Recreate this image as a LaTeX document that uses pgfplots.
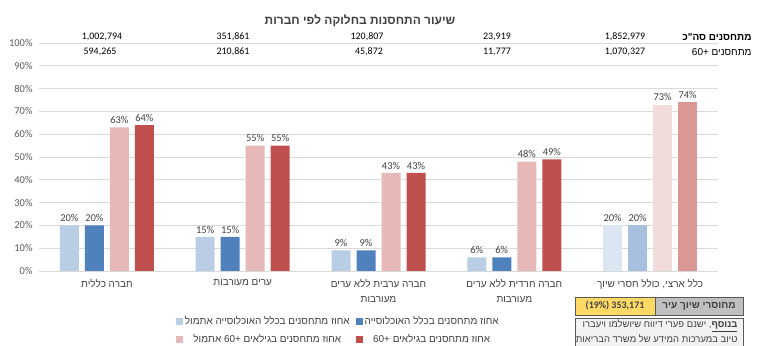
\documentclass[border=0pt]{standalone}
\usepackage{pgfplots}
\pgfplotsset{compat=1.18}
\usepackage{fontspec}
\setmainfont{Carlito}
\newfontfamily\hebfont[Script=Hebrew]{Liberation Sans}
\TeXXeTstate=1
\definecolor{lb}{HTML}{B9CDE5}
\definecolor{db}{HTML}{4F81BD}
\definecolor{lr}{HTML}{E6B9B8}
\definecolor{dr}{HTML}{C0504D}
\definecolor{lbb}{HTML}{DCE6F2}
\definecolor{dbb}{HTML}{A7C0DE}
\definecolor{lrr}{HTML}{F2DCDB}
\definecolor{drr}{HTML}{D99795}
\definecolor{txt}{HTML}{404040}
\definecolor{tick}{HTML}{595959}
\definecolor{gridc}{HTML}{D9D9D9}
\definecolor{boxy}{HTML}{FFD966}
\definecolor{boxg}{HTML}{BFBFBF}
\begin{document}
\begin{tikzpicture}
\path[use as bounding box] (0bp,0bp) rectangle (758bp,346bp);
\begin{axis}[
  at={(39bp,75bp)}, anchor=south west,
  scale only axis, width=679bp, height=228bp,
  ymin=0, ymax=100, ytick={0,10,...,100},
  xmin=-0.5, xmax=4.5, xtick={0,1,2,3,4},
  /pgf/number format/assume math mode=true,
  yticklabel={\pgfmathprintnumber{\tick}\%},
  yticklabel style={font=\fontsize{10.5}{12}\selectfont, text=tick, xshift=-3bp},
  xticklabels={{\hebfont\beginR חברה כללית\endR},{\hebfont\beginR ערים מעורבות\endR},{\hebfont\beginR חברה ערבית ללא ערים\endR\\\hebfont\beginR מעורבות\endR},{\hebfont\beginR חברה חרדית ללא ערים\endR\\\hebfont\beginR מעורבות\endR},{\hebfont\beginR כלל ארצי, כולל חסרי שיוך\endR}},
  xticklabel style={font=\fontsize{10}{15}\selectfont, text=txt, align=center, yshift=-5bp},
  major tick length=0pt,
  ymajorgrids, grid style={gridc, line width=0.8pt},
  axis y line*=left, y axis line style={draw=none},
  axis x line*=bottom, x axis line style={gridc, line width=0.8pt},
  ybar, bar width=19bp,
  nodes near coords={\pgfmathprintnumber{\pgfplotspointmeta}\%},
  every node near coord/.append style={font=\fontsize{10.5}{12}\selectfont, text=txt},
  legend style={at={(0.197,-0.18)}, anchor=north west, draw=none, fill=none,
    font=\fontsize{10}{12}\selectfont, text=txt,
    /tikz/every even column/.append style={column sep=4bp},
    row sep=5bp},
  legend columns=2,
  legend image code/.code={\fill[#1] (0bp,-3.5bp) rectangle (7bp,3.5bp);},
]
\addplot[fill=lb, draw=none, bar shift=-37.5bp] coordinates {(0,20) (1,15) (2,9) (3,6)};
\addlegendentry{\hebfont\beginR אחוז מתחסנים בכלל האוכלוסייה אתמול\endR}
\addplot[fill=db, draw=none, bar shift=-12.5bp] coordinates {(0,20) (1,15) (2,9) (3,6)};
\addlegendentry{\hebfont\beginR אחוז מתחסנים בכלל האוכלוסייה\endR}
\addplot[fill=lr, draw=none, bar shift=12.5bp] coordinates {(0,63) (1,55) (2,43) (3,48)};
\addlegendentry{\hebfont\beginR אחוז מתחסנים בגילאים \beginL+60\endL{} אתמול\endR}
\addplot[fill=dr, draw=none, bar shift=37.5bp] coordinates {(0,64) (1,55) (2,43) (3,49)};
\addlegendentry{\hebfont\beginR אחוז מתחסנים בגילאים \beginL+60\endL\endR}
\addplot[fill=lbb, draw=none, bar shift=-37.5bp, forget plot] coordinates {(4,20)};
\addplot[fill=dbb, draw=none, bar shift=-12.5bp, forget plot] coordinates {(4,20)};
\addplot[fill=lrr, draw=none, bar shift=12.5bp, forget plot] coordinates {(4,73)};
\addplot[fill=drr, draw=none, bar shift=37.5bp, forget plot] coordinates {(4,74)};
\end{axis}
% title
\node[font=\bfseries\fontsize{12}{14}\selectfont, text=txt] at (360bp,325bp) {\hebfont\beginR שיעור התחסנות בחלוקה לפי חברות\endR};
% top table
\begin{scope}[every node/.style={font=\fontsize{10}{12}\selectfont}]
\node at (102bp,309bp) {1,002,794};
\node at (233bp,309bp) {351,861};
\node at (367bp,309bp) {120,807};
\node at (497bp,309bp) {23,919};
\node at (625bp,309bp) {1,852,979};
\node at (100bp,294bp) {594,265};
\node at (233bp,294bp) {210,861};
\node at (369bp,294bp) {45,872};
\node at (497bp,294bp) {11,777};
\node at (625bp,294bp) {1,070,327};
\node[anchor=east] at (755bp,309bp) {\hebfont\bfseries\beginR מתחסנים סה"כ\endR};
\node[anchor=east] at (755bp,294bp) {\hebfont\beginR מתחסנים \beginL+60\endL\endR};
\end{scope}
% boxes
\fill[boxy] (575bp,31bp) rectangle (655bp,49bp);
\fill[boxg] (655bp,31bp) rectangle (743bp,49bp);
\draw[black!65, line width=0.8pt] (575bp,31bp) rectangle (743bp,49bp) (655bp,31bp) -- (655bp,49bp);
\node[font=\bfseries\fontsize{10}{12}\selectfont, text=txt] at (615bp,40bp) {(19\%) 353,171};
\node[font=\fontsize{10}{12}\selectfont, text=txt] at (699bp,40bp) {\hebfont\bfseries\beginR מחוסרי שיוך עיר\endR};
\filldraw[fill=white!95!black, draw=black!65, line width=0.8pt] (575bp,-10bp) rectangle (743bp,28bp);
\node[anchor=east, font=\fontsize{9.5}{11}\selectfont, text=txt] at (741bp,20bp) {\hebfont\beginR\underline{\bfseries בנוסף}, ישנם פערי דיווח שיושלמו ויעברו\endR};
\node[anchor=east, font=\fontsize{9.5}{11}\selectfont, text=txt] at (741bp,7bp) {\hebfont\beginR טיוב במערכות המידע של משרד הבריאות\endR};
\end{tikzpicture}
\end{document}
